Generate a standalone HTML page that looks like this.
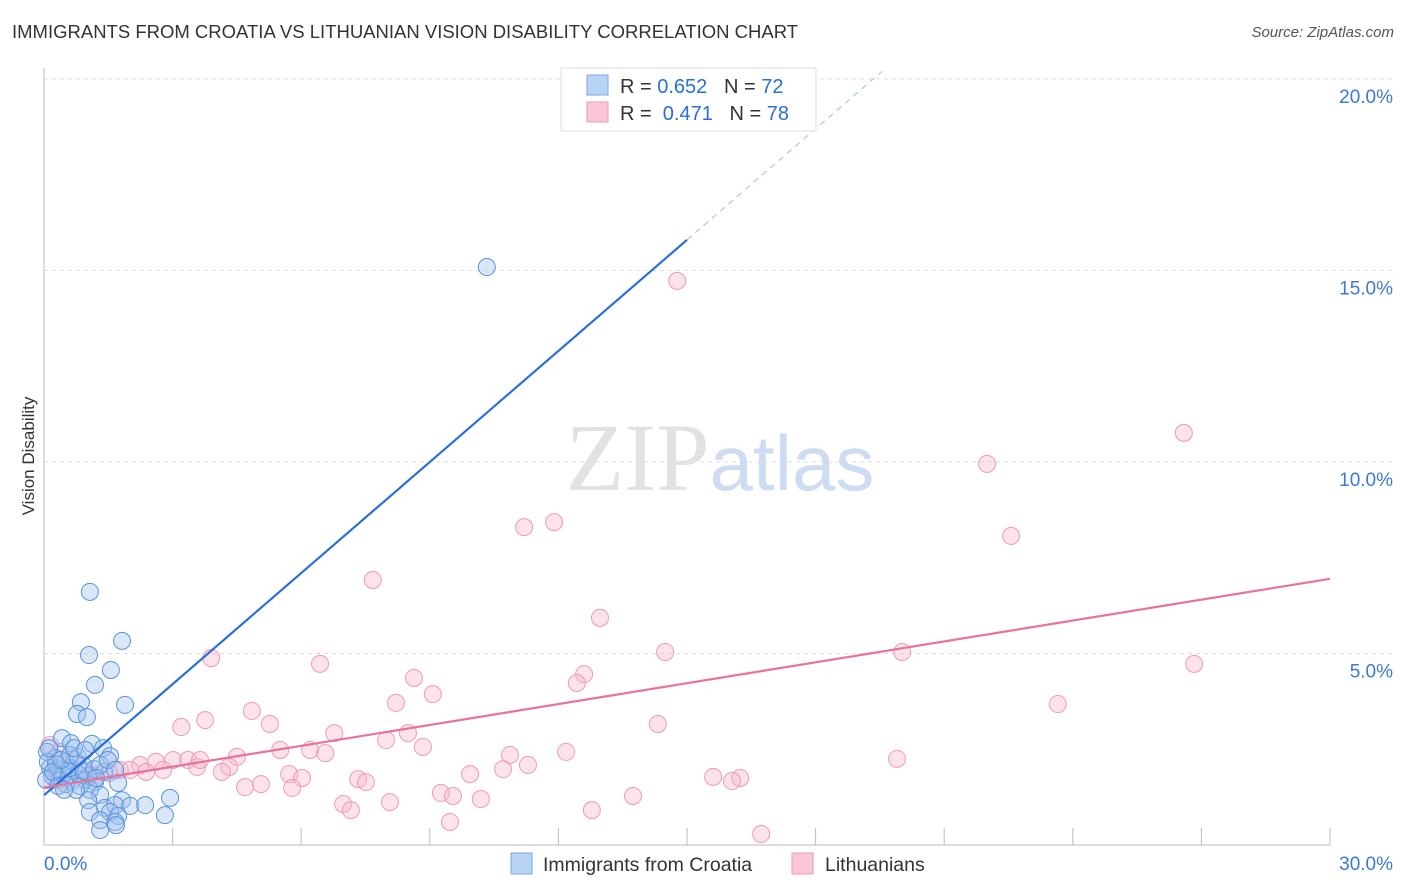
<!DOCTYPE html>
<html><head><meta charset="utf-8"><style>
body{margin:0;background:#fff;font-family:"Liberation Sans",sans-serif;}
#wrap{position:relative;width:1406px;height:892px;overflow:hidden}
.t{position:absolute;white-space:nowrap}
</style></head><body><div id="wrap">
<div class="t" style="left:12px;top:21px;font-size:18.5px;color:#333">IMMIGRANTS FROM CROATIA VS LITHUANIAN VISION DISABILITY CORRELATION CHART</div>
<div class="t" style="right:12px;top:24px;font-size:15px;color:#555;font-style:italic">Source: ZipAtlas.com</div>
<svg id="svg" width="1406" height="892" style="position:absolute;left:0;top:0"></svg>
</div>
<script>
const yTicks=[5,10,15,20];
const xTickLabels=["0.0%","30.0%"];
const blueX=[],blueY=[],pinkX=[],pinkY=[];
const bluePx=[[487,267],[90,592],[122,641],[89,655],[111,670],[95,685],[81,702],[125,705],[77,714],[87,717],[62,738],[71,743],[92,744],[103,748],[110,756],[47,752],[55,758],[65,762],[75,760],[83,765],[50,768],[58,770],[68,772],[78,774],[88,776],[52,776],[60,779],[72,781],[85,780],[95,782],[80,786],[90,790],[100,795],[88,800],[105,808],[122,800],[115,805],[130,806],[145,805],[170,798],[90,812],[110,812],[118,816],[100,820],[115,822],[165,815],[100,830],[116,825],[48,762],[56,764],[63,775],[70,768],[46,780],[53,772],[66,784],[76,790],[58,786],[64,790],[84,771],[94,769],[104,772],[61,760],[70,755],[78,757],[100,765],[108,760],[115,770],[49,748],[74,748],[85,750],[96,778],[118,783]];
const pinkPx=[[677,281],[1184,433],[987,464],[524,527],[554,522],[1011,536],[373,580],[600,618],[665,652],[902,652],[1194,664],[211,658],[320,664],[414,678],[584,674],[577,683],[433,694],[396,703],[1058,704],[252,711],[205,720],[270,724],[181,727],[658,724],[334,733],[408,733],[386,740],[423,747],[566,752],[280,750],[310,750],[325,753],[237,757],[173,760],[188,760],[140,765],[156,762],[197,767],[229,767],[163,770],[146,772],[510,755],[528,765],[503,769],[897,759],[222,772],[120,770],[109,773],[96,775],[289,774],[302,778],[470,774],[713,777],[740,778],[732,781],[358,779],[366,782],[245,787],[261,784],[292,788],[441,793],[453,796],[481,799],[633,796],[343,804],[390,802],[351,810],[592,810],[450,822],[761,834],[50,745],[60,752],[68,768],[80,770],[90,775],[55,780],[200,760],[130,770]];
bluePx.forEach(p=>{blueX.push(+((p[0]-44)/1286*30).toFixed(2));blueY.push(+((845-p[1])/38.3).toFixed(2));});
pinkPx.forEach(p=>{pinkX.push(+((p[0]-44)/1286*30).toFixed(2));pinkY.push(+((845-p[1])/38.3).toFixed(2));});
const blueTrend=[1.3,15.8];
const pinkTrend=[1.5,6.95];
const X=v=>44+v/30*1286, Y=v=>845-v*38.3;
const svg=document.getElementById('svg');const NS='http://www.w3.org/2000/svg';
function mk(tag,attrs,name){const e=document.createElementNS(NS,tag);for(const k in attrs)e.setAttribute(k,attrs[k]);


svg.appendChild(e);return e;}
yTicks.forEach(v=>{mk('line',{x1:44,x2:1394,y1:Y(v),y2:Y(v),stroke:'#ddd','stroke-dasharray':'4,4'},'gridline');
const t=mk('text',{x:1393,y:Y(v)+24,'text-anchor':'end','font-size':19,fill:'#3b78d8'},'y-tick-label');t.textContent=v.toFixed(1)+'%';});
mk('line',{x1:44,x2:44,y1:68,y2:845,stroke:'#bbb'},'y-axis-line');
mk('line',{x1:44,x2:1330,y1:845,y2:845,stroke:'#bbb'},'x-axis-line');
for(let i=1;i<=10;i++){mk('line',{x1:X(i*3),x2:X(i*3),y1:828,y2:845,stroke:'#bbb'},'x-tick');}
const wt=mk('text',{x:720,y:490,'text-anchor':'middle','font-size':96,fill:'#e2e2e2','font-family':'Liberation Serif'},'watermark');
wt.innerHTML='ZIP<tspan fill="#cddcf2" font-family="Liberation Sans" font-size="78">atlas</tspan>';
xTickLabels.forEach((l,i)=>{const t=mk('text',{x:i?1393:44,y:870,'text-anchor':i?'end':'start','font-size':19,fill:'#3b78d8'},'x-tick-label');t.textContent=l;});
const yl=mk('text',{x:34,y:456,'text-anchor':'middle','font-size':17,fill:'#333',transform:'rotate(-90 34 456)'},'y-axis-title');yl.textContent='Vision Disability';
pinkX.forEach((x,i)=>mk('circle',{cx:X(x),cy:Y(pinkY[i]),r:8.5,fill:'rgba(248,182,204,0.4)',stroke:'#ef9ab6','stroke-width':1},'point-lithuanians'));
blueX.forEach((x,i)=>mk('circle',{cx:X(x),cy:Y(blueY[i]),r:8.5,fill:'rgba(160,196,240,0.4)',stroke:'#5a93dc','stroke-width':1},'point-croatia'));
const bs=(blueTrend[1]-blueTrend[0])/15;
mk('line',{x1:X(0),y1:Y(blueTrend[0]),x2:X(15),y2:Y(blueTrend[1]),stroke:'#2a6fd6','stroke-width':2.2},'trend-croatia');
const xe=(20.2-blueTrend[0])/bs;
mk('line',{x1:X(15),y1:Y(blueTrend[1]),x2:X(xe),y2:Y(20.2),stroke:'#9bbbe8','stroke-width':1,'stroke-dasharray':'6,5'},'trend-croatia-extension');
mk('line',{x1:X(0),y1:Y(pinkTrend[0]),x2:X(30),y2:Y(pinkTrend[1]),stroke:'#e8739a','stroke-width':2.2},'trend-lithuanians');
mk('rect',{x:561,y:68,width:255,height:63,fill:'#fff',stroke:'#ddd'},'legend-box');
mk('rect',{x:587,y:75,width:21,height:20,fill:'#b8d3f5',stroke:'#7aa8e6'},'legend-swatch-croatia');
mk('rect',{x:587,y:102,width:21,height:20,fill:'#f9c7d7',stroke:'#ef9ab6'},'legend-swatch-lithuanians');
const l1=mk('text',{x:620,y:93,'font-size':20,fill:'#333'},'legend-entry-croatia');l1.innerHTML='R = <tspan fill="#2a6fd6">0.652</tspan>&#160;&#160;&#160;N = <tspan fill="#2a6fd6">72</tspan>';
const l2=mk('text',{x:620,y:120,'font-size':20,fill:'#333'},'legend-entry-lithuanians');l2.innerHTML='R = &#160;<tspan fill="#2a6fd6">0.471</tspan>&#160;&#160;&#160;N = <tspan fill="#2a6fd6">78</tspan>';
mk('rect',{x:511,y:853,width:21,height:21,fill:'#b8d3f5',stroke:'#7aa8e6'},'bottom-legend-swatch-croatia');
const b1=mk('text',{x:543,y:871,'font-size':19.5,fill:'#333'},'bottom-legend-croatia');b1.textContent='Immigrants from Croatia';
mk('rect',{x:792,y:853,width:21,height:21,fill:'#f9c7d7',stroke:'#ef9ab6'},'bottom-legend-swatch-lithuanians');
const b2=mk('text',{x:825,y:871,'font-size':19.5,fill:'#333'},'bottom-legend-lithuanians');b2.textContent='Lithuanians';
</script></body></html>
